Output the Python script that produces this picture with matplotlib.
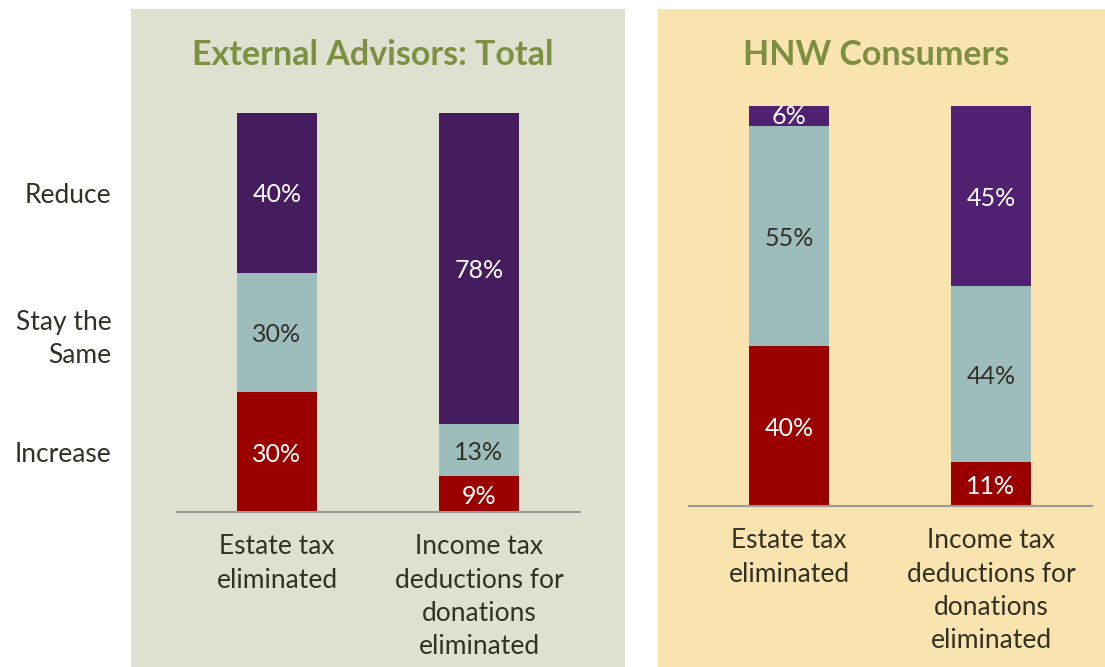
import matplotlib
matplotlib.use("Agg")
import matplotlib.pyplot as plt
from matplotlib.patches import Rectangle
import numpy as np

plt.rcParams['font.family'] = ['Lato', 'DejaVu Sans']

categories = ["Estate tax\neliminated", "Income tax\ndeductions for\ndonations\neliminated"]
segments = ["Increase", "Stay the\nSame", "Reduce"]

adv_increase = [30, 9]
adv_same = [30, 13]
adv_reduce = [40, 78]

hnw_increase = [40, 11]
hnw_same = [55, 44]
hnw_reduce = [6, 45]

panel_titles = ["External Advisors: Total", "HNW Consumers"]

RED = "#9B0000"
TEAL = "#9DBDBD"
PURPLE_L = "#451D5E"
PURPLE_R = "#4F2170"
TITLE_C = "#7D8F41"
TEXT_C = "#333025"
BG_L = "#DEE1CF"
BG_R = "#F9E4AF"

W, H = 1105, 667
fig = plt.figure(figsize=(W / 100, H / 100), dpi=100)
fig.patch.set_facecolor("white")

def px_rect(x0, y0, x1, y1):
    return [x0 / W, 1 - y1 / H, (x1 - x0) / W, (y1 - y0) / H]

# background layer
bg = fig.add_axes([0, 0, 1, 1])
bg.set_zorder(0)
bg.set_xlim(0, W)
bg.set_ylim(H, 0)
bg.axis("off")
for (x0, x1), c in [((131, 625), BG_L), ((658, 1105), BG_R)]:
    bg.add_patch(Rectangle((x0, 9), x1 - x0, H - 9, facecolor=c, edgecolor="none"))

bg.text(373, 55, panel_titles[0], ha="center", va="center",
        fontsize=24.5, fontweight="bold", color=TITLE_C)
bg.text(876, 55, panel_titles[1], ha="center", va="center",
        fontsize=24.5, fontweight="bold", color=TITLE_C)

LS = 1.42

def draw(ax_rect, inc, same, red_, purple):
    ax = fig.add_axes(ax_rect)
    ax.set_zorder(2)
    ax.set_facecolor("none")
    x = np.arange(len(categories))
    bw = 0.396
    ax.bar(x, inc, bw, color=RED, zorder=2)
    ax.bar(x, same, bw, bottom=inc, color=TEAL, zorder=2)
    bottoms = np.array(inc) + np.array(same)
    ax.bar(x, red_, bw, bottom=bottoms, color=purple, zorder=2)
    for vals, starts, tc in [(inc, [0, 0], "white"),
                             (same, inc, TEXT_C),
                             (red_, bottoms, "white")]:
        for i, (v, s) in enumerate(zip(vals, starts)):
            ax.text(x[i], s + v / 2, f"{v}%", ha="center", va="center_baseline",
                    fontsize=18, color=tc, zorder=3)
    ax.set_xlim(-0.495, 1.5)
    ax.set_ylim(0, 100)
    for s in ["top", "right", "left"]:
        ax.spines[s].set_visible(False)
    ax.spines["bottom"].set_color("#9A9A9A")
    ax.spines["bottom"].set_linewidth(1.5)
    ax.spines["bottom"].set_zorder(4)
    ax.set_yticks([])
    ax.set_xticks(x)
    ax.set_xticklabels(categories, fontsize=19, color=TEXT_C, linespacing=LS)
    ax.tick_params(axis="x", length=0, pad=16)
    return ax

axL = draw(px_rect(177, 113, 580, 512), adv_increase, adv_same, adv_reduce, PURPLE_L)
axR = draw(px_rect(689, 106, 1092, 506), hnw_increase, hnw_same, hnw_reduce, PURPLE_R)

# row labels at segment centres of the first advisor bar
cum = np.cumsum([0, adv_increase[0], adv_same[0], adv_reduce[0]])
mids = (cum[:-1] + cum[1:]) / 2
for lab, m in zip(segments, mids):
    axL.text(-0.82, m, lab, ha="right", va="center_baseline", fontsize=19,
             color=TEXT_C, linespacing=LS, clip_on=False)

fig.savefig("out.png", dpi=100, facecolor="white")
